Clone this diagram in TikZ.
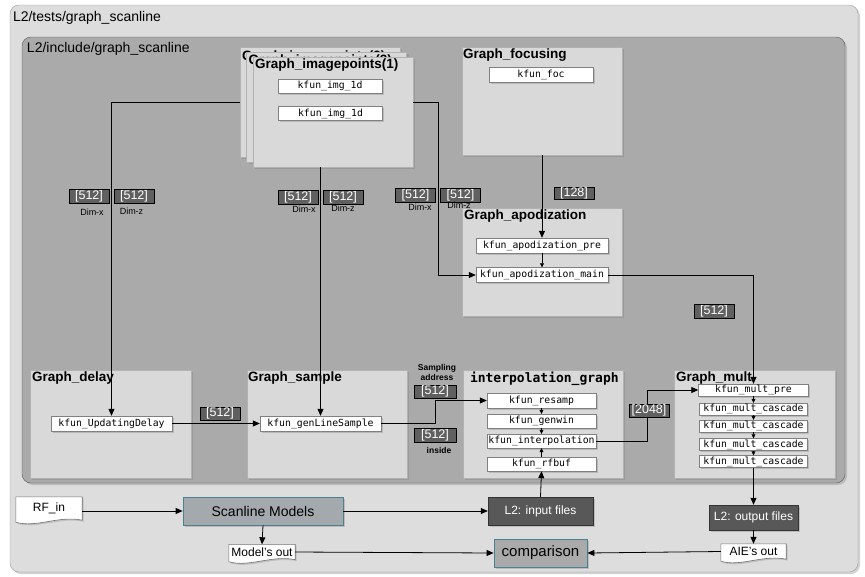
\documentclass[tikz,border=0pt]{standalone}
\usepackage{fontspec}
\setmainfont{Liberation Sans}
\setmonofont{DejaVu Sans Mono}
\usetikzlibrary{shapes,arrows.meta,positioning,calc,shadows}
\definecolor{framegray}{RGB}{221,221,221}
\definecolor{areagray}{RGB}{170,170,170}
\definecolor{graphgray}{RGB}{217,217,217}
\definecolor{tagdark}{RGB}{96,96,96}
\definecolor{filedark}{RGB}{88,88,88}
\definecolor{modelteal}{RGB}{74,128,144}
\definecolor{modelfill}{RGB}{163,169,172}

\tikzset{
  frame/.style={draw=gray!80, rounded corners=9pt, inner sep=0pt,
    drop shadow={shadow xshift=2pt, shadow yshift=-2pt, opacity=0.35}},
  frametitle/.style={anchor=north west, inner sep=1pt, font=\fontsize{14}{16}\selectfont},
  graphbox/.style={draw=gray!60, fill=graphgray, inner sep=0pt,
    drop shadow={shadow xshift=2pt, shadow yshift=-2pt, opacity=0.4}},
  graphtitle/.style={anchor=north west, inner sep=1pt, font=\fontsize{13.5}{15}\selectfont\bfseries},
  kfun/.style={draw=gray, fill=white, inner sep=0pt, font=\fontsize{9.8}{11}\selectfont\ttfamily,
    drop shadow={shadow xshift=1.5pt, shadow yshift=-1.5pt, opacity=0.35}},
  tag/.style={draw=black, fill=tagdark, text=white, inner sep=0pt, minimum width=40,
    minimum height=14, font=\fontsize{12.5}{13}\selectfont},
  dimtext/.style={inner sep=0pt, font=\fontsize{9}{10}\selectfont},
  conn/.style={draw=black, line width=0.8pt, -{Triangle[length=7pt,width=6pt]}},
  minor/.style={draw=black, line width=0.6pt, -{Triangle[length=4pt,width=4pt]}},
  modelbox/.style={draw=modelteal, line width=0.8pt, inner sep=0pt, font=\fontsize{14}{16}\selectfont,
    drop shadow={shadow xshift=2pt, shadow yshift=-2pt, opacity=0.35}},
  filebox/.style={draw=black!80, fill=filedark, text=white, inner sep=0pt, font=\fontsize{12}{14}\selectfont,
    drop shadow={shadow xshift=2pt, shadow yshift=-2pt, opacity=0.35}},
  docbox/.style={draw=none, inner sep=0pt},
  docline/.style={draw=gray!90!black, fill=white, line width=0.6pt,
    drop shadow={shadow xshift=1.5pt, shadow yshift=-1.5pt, opacity=0.3}},
  doctext/.style={inner sep=0pt, font=\fontsize{12}{14}\selectfont}
}

\begin{document}
\begin{tikzpicture}[x=1pt, y=-1pt]
    \useasboundingbox[fill=white] (0,0) rectangle (865,576);

    % Frames
    \node[frame, fill=framegray, minimum width=848, minimum height=567] (tests) at (434,288.5) {};
    \node[frametitle] (teststitle) at ([shift={(2,5)}]tests.north west) {L2/tests/graph\_scanline};
    \node[frame, fill=areagray, draw=gray!70!black, minimum width=823, minimum height=446] (include) at (433.5,260) {};
    \node[frametitle] (includetitle) at ([shift={(4,4)}]include.north west) {L2/include/graph\_scanline};

    % Graph_imagepoints stack
    \node[graphbox, minimum width=160, minimum height=110] (imgC) at (320,102) {};
    \node[graphtitle] (imgCtitle) at ([shift={(1,3)}]imgC.north west) {Graph\_imagepoints(3)};
    \node[graphbox, minimum width=160, minimum height=110] (imgB) at (326.5,107) {};
    \node[graphtitle] (imgBtitle) at ([shift={(1,2)}]imgB.north west) {Graph\_imagepoints(2)};
    \node[graphbox, minimum width=160, minimum height=110] (imgA) at (333,112) {};
    \node[graphtitle] (imgAtitle) at ([shift={(1,1)}]imgA.north west) {Graph\_imagepoints(1)};
    \node[kfun, minimum width=104, minimum height=14] (imgfa) at (330,86) {kfun\_img\_1d};
    \node[kfun, minimum width=104, minimum height=14] (imgfb) at (330.5,113.5) {kfun\_img\_1d};

    % Graph_focusing
    \node[graphbox, minimum width=160, minimum height=108] (foc) at (542,101) {};
    \node[graphtitle] (foctitle) at ([shift={(0,1)}]foc.north west) {Graph\_focusing};
    \node[kfun, minimum width=104, minimum height=15] (focfn) at (541,74.5) {kfun\_foc};

    % Graph_apodization
    \node[graphbox, minimum width=160, minimum height=108] (apod) at (542,262) {};
    \node[graphtitle] (apodtitle) at ([shift={(1,1)}]apod.north west) {Graph\_apodization};
    \node[kfun, minimum width=132, minimum height=15] (apodpre) at (542,245.5) {kfun\_apodization\_pre};
    \node[kfun, minimum width=132, minimum height=15] (apodmain) at (542,275) {kfun\_apodization\_main};

    % Graph_delay
    \node[graphbox, minimum width=161, minimum height=108] (delay) at (110.5,424) {};
    \node[graphtitle] (delaytitle) at ([shift={(1,1)}]delay.north west) {Graph\_delay};
    \node[kfun, minimum width=121, minimum height=15] (delayfn) at (111.5,423.5) {kfun\_UpdatingDelay};

    % Graph_sample
    \node[graphbox, minimum width=160, minimum height=108] (sample) at (327,424) {};
    \node[graphtitle] (sampletitle) at ([shift={(0,1)}]sample.north west) {Graph\_sample};
    \node[kfun, minimum width=121, minimum height=15] (samplefn) at (320.5,423.5) {kfun\_genLineSample};

    % interpolation_graph
    \node[graphbox, minimum width=160, minimum height=108] (interpg) at (543,424) {};
    \node[graphtitle, font=\fontsize{13}{15}\selectfont\ttfamily\bfseries] (interpgtitle)
        at ([shift={(6,1)}]interpg.north west) {interpolation\_graph};
    \node[kfun, minimum width=109, minimum height=15] (resamp) at (541.5,400.5) {kfun\_resamp};
    \node[kfun, minimum width=109, minimum height=14] (genwin) at (541.5,421) {kfun\_genwin};
    \node[kfun, minimum width=109, minimum height=14] (interp) at (541.5,441) {kfun\_interpolation};
    \node[kfun, minimum width=109, minimum height=14] (rfbuf) at (541.5,464) {kfun\_rfbuf};

    % Graph_mult
    \node[graphbox, minimum width=161, minimum height=108] (mult) at (754.5,424) {};
    \node[graphtitle] (multtitle) at ([shift={(1,1)}]mult.north west) {Graph\_mult};
    \node[kfun, minimum width=110, minimum height=12] (multpre) at (753.5,390) {kfun\_mult\_pre};
    \foreach \i/\y in {1/409,2/426,3/444.5,4/461.5}
        \node[kfun, minimum width=108, minimum height=12] (casc\i) at (753.5,\y) {kfun\_mult\_cascade};

    % Bottom row
    \node[modelbox, fill=modelfill, minimum width=160, minimum height=28] (scanline) at (263,511) {Scanline Models};
    \node[filebox, minimum width=105, minimum height=28] (infiles) at (540.5,511) {L2: input files};
    \node[modelbox, fill=areagray, minimum width=93, minimum height=28, font=\fontsize{15}{17}\selectfont]
        (comparison) at (540.5,553) {comparison};
    \node[filebox, minimum width=89, minimum height=25] (outfiles) at (753.5,517.5) {L2: output files};
    \foreach \nm/\cx/\cy/\w/\h/\txt in {rfin/49/508.5/66/23/RF\_in,
                                        modelout/262/552/66/15/Model's out,
                                        aieout/753.5/551.5/65/15/AIE's out} {
        \node[docbox, minimum width=\w, minimum height=\h] (\nm) at (\cx,\cy) {};
        \draw[docline] (\nm.north west) -- (\nm.north east) -- (\nm.south east)
            .. controls ($(\nm.south east)+(-0.35*\w,-5)$) and ($(\nm.south west)+(0.3*\w,8)$)
            .. ($(\nm.south west)+(0,2)$) -- cycle;
        \node[doctext] (\nm label) at (\nm) {\txt};
    }

    % Connections
    \draw[conn] (imgC.west) -| (delayfn.north);
    \draw[conn] (samplefn.north |- imgA.south) -- (samplefn.north);
    \coordinate (ipturn) at (438,102);
    \draw[conn] (imgA.east |- ipturn) -- (ipturn) |- (apodmain.west);
    \draw[conn] (foc.south -| apodpre.north) -- (apodpre.north);
    \draw[minor] (apodpre) -- (apodmain);
    \draw[conn] (apodmain.east) -| (multpre.north);
    \draw[conn] (delayfn.east) -- (samplefn.west);
    \draw[conn] (samplefn.east) -- ++(54,0) |- (resamp.west);
    \draw[minor] (resamp) -- (genwin);
    \draw[minor] (genwin) -- (interp);
    \draw[minor] (rfbuf) -- (interp);
    \draw[conn] (interp.east) -- ++(51,0) |- (multpre.west);
    \draw[minor] (multpre) -- (casc1);
    \draw[minor] (casc1) -- (casc2);
    \draw[minor] (casc2) -- (casc3);
    \draw[minor] (casc3) -- (casc4);
    \draw[conn] (casc4.south) -- (outfiles.north);
    \draw[conn] (infiles.north) -- (rfbuf.south);
    \draw[conn] (scanline.west -| rfin.east) -- (scanline.west);
    \draw[conn] (scanline.east) -- (infiles.west);
    \draw[conn] (scanline.south) -- (modelout.north);
    \draw[conn] (modelout.east) -- (comparison.west);
    \draw[conn] (outfiles.south) -- (aieout.north);
    \draw[conn] (aieout.west) -- (comparison.east);

    % Data size tags
    \node[tag] (dxdelay) at (89,196) {[512]};
    \node[tag] (dzdelay) at (134,196) {[512]};
    \node[dimtext] (dxdelaytext) at (92,212) {Dim-x};
    \node[dimtext] (dzdelaytext) at (131.5,211) {Dim-z};
    \node[tag] (dxsample) at (298,197) {[512]};
    \node[tag] (dzsample) at (343,197) {[512]};
    \node[dimtext] (dxsampletext) at (304,209) {Dim-x};
    \node[dimtext] (dzsampletext) at (343,208.5) {Dim-z};
    \node[tag] (dxapod) at (415.5,195) {[512]};
    \node[tag] (dzapod) at (460.5,195) {[512]};
    \node[dimtext] (dxapodtext) at (420,207) {Dim-x};
    \node[dimtext] (dzapodtext) at (459,205) {Dim-z};
    \node[tag, minimum height=12] (focsize) at (574,193) {[128]};
    \node[tag] (apodsize) at (714,311) {[512]};
    \node[tag, minimum height=13] (delaysize) at (220,413.5) {[512]};
    \node[tag, minimum width=42, minimum height=13] (addrsize) at (435,391.5) {[512]};
    \node[dimtext, align=center, font=\fontsize{8.5}{10.5}\selectfont\bfseries] (addrtext) at (437,372.5) {Sampling\\address};
    \node[tag, minimum width=42] (insidesize) at (435,435) {[512]};
    \node[dimtext, font=\fontsize{8.5}{10}\selectfont\bfseries] (insidetext) at (439,450) {inside};
    \node[tag, minimum height=13] (interpsize) at (649,410.5) {[2048]};
\end{tikzpicture}
\end{document}
